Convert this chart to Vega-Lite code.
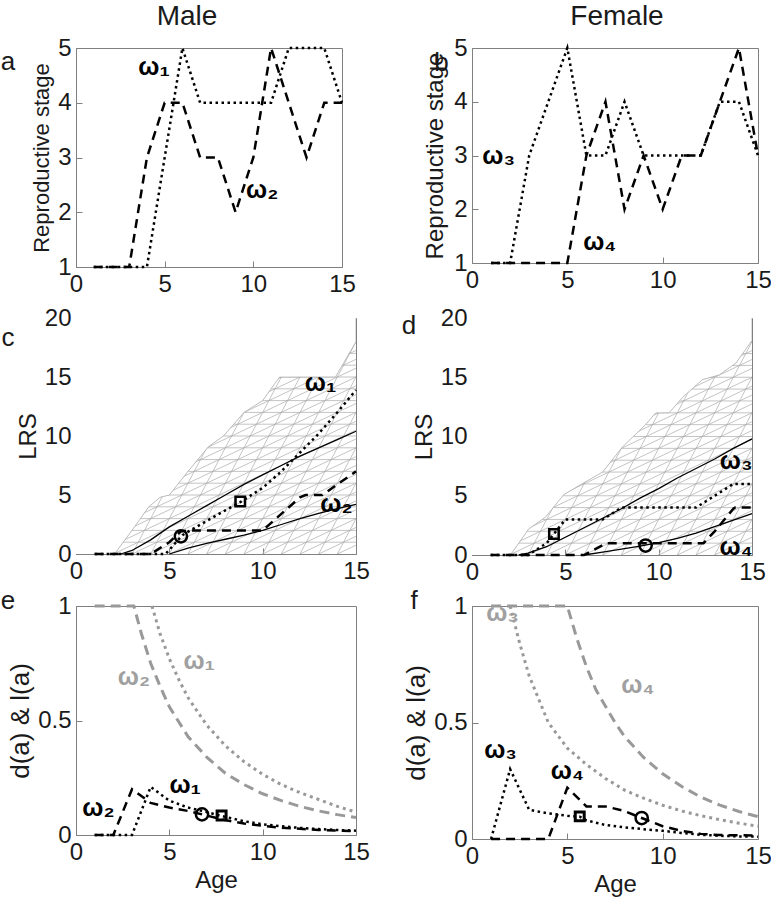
{
"$schema":"https://vega.github.io/schema/vega-lite/v6.json",
"padding":{"left":0,"top":2,"right":2,"bottom":2},
"background":"white",
"columns":2,
"bounds":"flush",
"align":"each",
"spacing":{"row":51,"column":116},
"concat":[
 {"width":266,"height":219,
  "title":{"text":"Male","anchor":"middle","fontSize":28,"offset":5,"dx":-22},
  "encoding":{"x":{"field":"x","type":"quantitative","scale":{"domain":[0,15]},"axis":{"values":[0,5,10,15],"title":null}},
              "y":{"field":"y","type":"quantitative","scale":{"domain":[1,5]},"axis":{"values":[1,2,3,4,5],"title":"Reproductive stage","titleFontSize":22}}},
  "layer":[
   {"data":{"values":[{"x":1,"y":1},{"x":2,"y":1},{"x":3,"y":1},{"x":4,"y":3},{"x":5,"y":4},{"x":6,"y":4},{"x":7,"y":3},{"x":8,"y":3},{"x":9,"y":2},{"x":10,"y":3},{"x":11,"y":5},{"x":12,"y":4},{"x":13,"y":3},{"x":14,"y":4},{"x":15,"y":4}]},
    "mark":{"type":"line","color":"black","strokeWidth":2.5,"strokeDash":[9,6]}},
   {"data":{"values":[{"x":1,"y":1},{"x":2,"y":1},{"x":3,"y":1},{"x":4,"y":1},{"x":5,"y":3},{"x":6,"y":5},{"x":7,"y":4},{"x":8,"y":4},{"x":9,"y":4},{"x":10,"y":4},{"x":11,"y":4},{"x":12,"y":5},{"x":13,"y":5},{"x":14,"y":5},{"x":15,"y":4}]},
    "mark":{"type":"line","color":"black","strokeWidth":2.5,"strokeDash":[2.5,3.5]}},
   {"data":{"values":[{"x":4.4,"y":4.65,"t":"ω₁"},{"x":10.5,"y":2.4,"t":"ω₂"}]},
    "mark":{"type":"text","fontSize":25,"fontWeight":"bold","font":"Liberation Sans","color":"black"},"encoding":{"text":{"field":"t"}}},
   {"data":{"values":[{"x":-3.83,"y":4.74,"t":"a"}]},
    "mark":{"type":"text","fontSize":26,"font":"Liberation Sans","color":"#1a1a1a"},"encoding":{"text":{"field":"t"}}}
  ]},
 {"width":286,"height":215,
  "title":{"text":"Female","anchor":"middle","fontSize":28,"offset":5,"dx":2},
  "encoding":{"x":{"field":"x","type":"quantitative","scale":{"domain":[0,15]},"axis":{"values":[0,5,10,15],"title":null}},
              "y":{"field":"y","type":"quantitative","scale":{"domain":[1,5]},"axis":{"values":[1,2,3,4,5],"title":"Reproductive stage","titleFontSize":24,"titlePadding":6}}},
  "layer":[
   {"data":{"values":[{"x":1,"y":1},{"x":2,"y":1},{"x":3,"y":1},{"x":4,"y":1},{"x":5,"y":1},{"x":6,"y":3},{"x":7,"y":4},{"x":8,"y":2},{"x":9,"y":3},{"x":10,"y":2},{"x":11,"y":3},{"x":12,"y":3},{"x":13,"y":4},{"x":14,"y":5},{"x":15,"y":3}]},
    "mark":{"type":"line","color":"black","strokeWidth":2.5,"strokeDash":[9,6]}},
   {"data":{"values":[{"x":1,"y":1},{"x":2,"y":1},{"x":3,"y":3},{"x":4,"y":4},{"x":5,"y":5},{"x":6,"y":3},{"x":7,"y":3},{"x":8,"y":4},{"x":9,"y":3},{"x":10,"y":3},{"x":11,"y":3},{"x":12,"y":3},{"x":13,"y":4},{"x":14,"y":4},{"x":15,"y":3}]},
    "mark":{"type":"line","color":"black","strokeWidth":2.5,"strokeDash":[2.5,3.5]}},
   {"data":{"values":[{"x":1.4,"y":3.0,"t":"ω₃"},{"x":6.7,"y":1.4,"t":"ω₄"}]},
    "mark":{"type":"text","fontSize":25,"fontWeight":"bold","font":"Liberation Sans","color":"black"},"encoding":{"text":{"field":"t"}}},
   {"data":{"values":[{"x":-1.6,"y":4.72,"t":"b"}]},
    "mark":{"type":"text","fontSize":26,"font":"Liberation Sans","color":"#1a1a1a"},"encoding":{"text":{"field":"t"}}}
  ]},
 {"width":280,"height":236,
  "encoding":{"x":{"field":"x","type":"quantitative","scale":{"domain":[0,15]},"axis":{"values":[0,5,10,15],"title":null}},
              "y":{"field":"y","type":"quantitative","scale":{"domain":[0,20]},"axis":{"values":[0,5,10,15,20],"title":"LRS"}}},
  "layer":[
   {"data":{"values":[
{"g":"h1","x":0,"y":1},{"g":"h1","x":15,"y":1},{"g":"h2","x":0,"y":2},{"g":"h2","x":15,"y":2},{"g":"h3","x":0,"y":3},{"g":"h3","x":15,"y":3},{"g":"h4","x":0,"y":4},{"g":"h4","x":15,"y":4},{"g":"h5","x":0,"y":5},{"g":"h5","x":15,"y":5},{"g":"h6","x":0,"y":6},{"g":"h6","x":15,"y":6},{"g":"h7","x":0,"y":7},{"g":"h7","x":15,"y":7},{"g":"h8","x":0,"y":8},{"g":"h8","x":15,"y":8},{"g":"h9","x":0,"y":9},{"g":"h9","x":15,"y":9},{"g":"h10","x":0,"y":10},{"g":"h10","x":15,"y":10},{"g":"h11","x":0,"y":11},{"g":"h11","x":15,"y":11},{"g":"h12","x":0,"y":12},{"g":"h12","x":15,"y":12},{"g":"h13","x":0,"y":13},{"g":"h13","x":15,"y":13},{"g":"h14","x":0,"y":14},{"g":"h14","x":15,"y":14},{"g":"h15","x":0,"y":15},{"g":"h15","x":15,"y":15},{"g":"h16","x":0,"y":16},{"g":"h16","x":15,"y":16},{"g":"h17","x":0,"y":17},{"g":"h17","x":15,"y":17},{"g":"h18","x":0,"y":18},{"g":"h18","x":15,"y":18},
{"g":"s2","x":2,"y":0},{"g":"s2","x":8.667,"y":20},{"g":"s3","x":3,"y":0},{"g":"s3","x":9.667,"y":20},{"g":"s4","x":4,"y":0},{"g":"s4","x":10.667,"y":20},{"g":"s5","x":5,"y":0},{"g":"s5","x":11.667,"y":20},{"g":"s6","x":6,"y":0},{"g":"s6","x":12.667,"y":20},{"g":"s7","x":7,"y":0},{"g":"s7","x":13.667,"y":20},{"g":"s8","x":8,"y":0},{"g":"s8","x":14.667,"y":20},{"g":"s9","x":9,"y":0},{"g":"s9","x":15.667,"y":20},{"g":"s10","x":10,"y":0},{"g":"s10","x":16.667,"y":20},{"g":"s11","x":11,"y":0},{"g":"s11","x":17.667,"y":20},{"g":"s12","x":12,"y":0},{"g":"s12","x":18.667,"y":20},{"g":"s13","x":13,"y":0},{"g":"s13","x":19.667,"y":20},{"g":"s14","x":14,"y":0},{"g":"s14","x":20.667,"y":20},
{"g":"t-9","x":-9,"y":0},{"g":"t-9","x":17.667,"y":20},{"g":"t-8","x":-8,"y":0},{"g":"t-8","x":18.667,"y":20},{"g":"t-7","x":-7,"y":0},{"g":"t-7","x":19.667,"y":20},{"g":"t-6","x":-6,"y":0},{"g":"t-6","x":20.667,"y":20},{"g":"t-5","x":-5,"y":0},{"g":"t-5","x":21.667,"y":20},{"g":"t-4","x":-4,"y":0},{"g":"t-4","x":22.667,"y":20},{"g":"t-3","x":-3,"y":0},{"g":"t-3","x":23.667,"y":20},{"g":"t-2","x":-2,"y":0},{"g":"t-2","x":24.667,"y":20},{"g":"t-1","x":-1,"y":0},{"g":"t-1","x":25.667,"y":20},{"g":"t0","x":0,"y":0},{"g":"t0","x":26.667,"y":20},{"g":"t1","x":1,"y":0},{"g":"t1","x":27.667,"y":20},{"g":"t2","x":2,"y":0},{"g":"t2","x":28.667,"y":20},{"g":"t3","x":3,"y":0},{"g":"t3","x":29.667,"y":20},{"g":"t4","x":4,"y":0},{"g":"t4","x":30.667,"y":20},{"g":"t5","x":5,"y":0},{"g":"t5","x":31.667,"y":20},{"g":"t6","x":6,"y":0},{"g":"t6","x":32.667,"y":20},{"g":"t7","x":7,"y":0},{"g":"t7","x":33.667,"y":20},{"g":"t8","x":8,"y":0},{"g":"t8","x":34.667,"y":20},{"g":"t9","x":9,"y":0},{"g":"t9","x":35.667,"y":20},{"g":"t10","x":10,"y":0},{"g":"t10","x":36.667,"y":20},{"g":"t11","x":11,"y":0},{"g":"t11","x":37.667,"y":20},{"g":"t12","x":12,"y":0},{"g":"t12","x":38.667,"y":20},{"g":"t13","x":13,"y":0},{"g":"t13","x":39.667,"y":20},{"g":"t14","x":14,"y":0},{"g":"t14","x":40.667,"y":20}
   ]},
    "mark":{"type":"line","color":"#ababab","strokeWidth":0.7,"clip":true},"encoding":{"detail":{"field":"g"}}},
   {"data":{"values":[{"x":2.06,"y":0},{"x":3.0,"y":2},{"x":3.9,"y":4},{"x":4.5,"y":4.8},{"x":5.0,"y":5},{"x":6.0,"y":7},{"x":7.1,"y":9.1},{"x":7.9,"y":10},{"x":9.0,"y":12},{"x":10.0,"y":13},{"x":10.9,"y":14.99},{"x":13.9,"y":15},{"x":15,"y":18},{"x":15,"y":20}]},
    "layer":[
     {"mark":{"type":"area","orient":"horizontal","color":"white","opacity":1,"clip":true}},
     {"mark":{"type":"line","color":"#ababab","strokeWidth":0.8,"clip":true}}
    ]},
   {"data":{"values":[{"x":2.4,"y":0},{"x":3,"y":0.3},{"x":4,"y":1.2},{"x":5,"y":2.3},{"x":6,"y":3.2},{"x":7,"y":4.1},{"x":8,"y":5.0},{"x":9,"y":5.9},{"x":10,"y":6.7},{"x":11,"y":7.5},{"x":12,"y":8.3},{"x":13,"y":9.0},{"x":14,"y":9.7},{"x":15,"y":10.4}]},
    "mark":{"type":"line","color":"black","strokeWidth":1.3}},
   {"data":{"values":[{"x":5,"y":0},{"x":6,"y":0.5},{"x":7,"y":0.9},{"x":8,"y":1.25},{"x":9,"y":1.6},{"x":10,"y":2.0},{"x":11,"y":2.5},{"x":12,"y":3.0},{"x":13,"y":3.45},{"x":14,"y":3.85},{"x":15,"y":4.2}]},
    "mark":{"type":"line","color":"black","strokeWidth":1.3}},
   {"data":{"values":[{"x":1,"y":0},{"x":2,"y":0},{"x":3,"y":0},{"x":4,"y":0},{"x":5,"y":1.0},{"x":5.6,"y":1.9},{"x":6,"y":2},{"x":7,"y":2},{"x":8,"y":2},{"x":9,"y":2},{"x":10,"y":2},{"x":11,"y":3.4},{"x":12,"y":4.8},{"x":12.3,"y":5},{"x":13.2,"y":5},{"x":14,"y":5.9},{"x":15,"y":7}]},
    "mark":{"type":"line","color":"black","strokeWidth":2.5,"strokeDash":[9,6]}},
   {"data":{"values":[{"x":1,"y":0},{"x":2,"y":0},{"x":3,"y":0},{"x":4,"y":0},{"x":4.8,"y":0},{"x":5.7,"y":1.6},{"x":7,"y":2.8},{"x":8,"y":3.7},{"x":8.8,"y":4.4},{"x":10,"y":5.6},{"x":11,"y":7.0},{"x":12,"y":8.6},{"x":13,"y":10.2},{"x":14,"y":12.0},{"x":15,"y":13.9}]},
    "mark":{"type":"line","color":"black","strokeWidth":2.5,"strokeDash":[2.5,3.5]}},
   {"data":{"values":[{"x":5.62,"y":1.5}]},"mark":{"type":"point","shape":"circle","size":150,"color":"black","strokeWidth":2.5,"filled":false,"opacity":1}},
   {"data":{"values":[{"x":8.8,"y":4.45}]},"mark":{"type":"point","shape":"square","size":90,"color":"black","strokeWidth":2.5,"filled":false,"opacity":1}},
   {"data":{"values":[{"x":13.1,"y":14.5,"t":"ω₁"},{"x":13.95,"y":4.25,"t":"ω₂"}]},
    "mark":{"type":"text","fontSize":25,"fontWeight":"bold","font":"Liberation Sans","color":"black"},"encoding":{"text":{"field":"t"}}},
   {"data":{"values":[{"x":-3.64,"y":18.3,"t":"c"}]},
    "mark":{"type":"text","fontSize":26,"font":"Liberation Sans","color":"#1a1a1a"},"encoding":{"text":{"field":"t"}}}
  ]},
 {"width":280,"height":237,
  "encoding":{"x":{"field":"x","type":"quantitative","scale":{"domain":[0,15]},"axis":{"values":[0,5,10,15],"title":null}},
              "y":{"field":"y","type":"quantitative","scale":{"domain":[0,20]},"axis":{"values":[0,5,10,15,20],"title":"LRS"}}},
  "layer":[
   {"data":{"values":[
{"g":"h1","x":0,"y":1},{"g":"h1","x":15,"y":1},{"g":"h2","x":0,"y":2},{"g":"h2","x":15,"y":2},{"g":"h3","x":0,"y":3},{"g":"h3","x":15,"y":3},{"g":"h4","x":0,"y":4},{"g":"h4","x":15,"y":4},{"g":"h5","x":0,"y":5},{"g":"h5","x":15,"y":5},{"g":"h6","x":0,"y":6},{"g":"h6","x":15,"y":6},{"g":"h7","x":0,"y":7},{"g":"h7","x":15,"y":7},{"g":"h8","x":0,"y":8},{"g":"h8","x":15,"y":8},{"g":"h9","x":0,"y":9},{"g":"h9","x":15,"y":9},{"g":"h10","x":0,"y":10},{"g":"h10","x":15,"y":10},{"g":"h11","x":0,"y":11},{"g":"h11","x":15,"y":11},{"g":"h12","x":0,"y":12},{"g":"h12","x":15,"y":12},{"g":"h13","x":0,"y":13},{"g":"h13","x":15,"y":13},{"g":"h14","x":0,"y":14},{"g":"h14","x":15,"y":14},{"g":"h15","x":0,"y":15},{"g":"h15","x":15,"y":15},{"g":"h16","x":0,"y":16},{"g":"h16","x":15,"y":16},{"g":"h17","x":0,"y":17},{"g":"h17","x":15,"y":17},{"g":"h18","x":0,"y":18},{"g":"h18","x":15,"y":18},
{"g":"s2","x":2,"y":0},{"g":"s2","x":8.667,"y":20},{"g":"s3","x":3,"y":0},{"g":"s3","x":9.667,"y":20},{"g":"s4","x":4,"y":0},{"g":"s4","x":10.667,"y":20},{"g":"s5","x":5,"y":0},{"g":"s5","x":11.667,"y":20},{"g":"s6","x":6,"y":0},{"g":"s6","x":12.667,"y":20},{"g":"s7","x":7,"y":0},{"g":"s7","x":13.667,"y":20},{"g":"s8","x":8,"y":0},{"g":"s8","x":14.667,"y":20},{"g":"s9","x":9,"y":0},{"g":"s9","x":15.667,"y":20},{"g":"s10","x":10,"y":0},{"g":"s10","x":16.667,"y":20},{"g":"s11","x":11,"y":0},{"g":"s11","x":17.667,"y":20},{"g":"s12","x":12,"y":0},{"g":"s12","x":18.667,"y":20},{"g":"s13","x":13,"y":0},{"g":"s13","x":19.667,"y":20},{"g":"s14","x":14,"y":0},{"g":"s14","x":20.667,"y":20},
{"g":"t-9","x":-9,"y":0},{"g":"t-9","x":17.667,"y":20},{"g":"t-8","x":-8,"y":0},{"g":"t-8","x":18.667,"y":20},{"g":"t-7","x":-7,"y":0},{"g":"t-7","x":19.667,"y":20},{"g":"t-6","x":-6,"y":0},{"g":"t-6","x":20.667,"y":20},{"g":"t-5","x":-5,"y":0},{"g":"t-5","x":21.667,"y":20},{"g":"t-4","x":-4,"y":0},{"g":"t-4","x":22.667,"y":20},{"g":"t-3","x":-3,"y":0},{"g":"t-3","x":23.667,"y":20},{"g":"t-2","x":-2,"y":0},{"g":"t-2","x":24.667,"y":20},{"g":"t-1","x":-1,"y":0},{"g":"t-1","x":25.667,"y":20},{"g":"t0","x":0,"y":0},{"g":"t0","x":26.667,"y":20},{"g":"t1","x":1,"y":0},{"g":"t1","x":27.667,"y":20},{"g":"t2","x":2,"y":0},{"g":"t2","x":28.667,"y":20},{"g":"t3","x":3,"y":0},{"g":"t3","x":29.667,"y":20},{"g":"t4","x":4,"y":0},{"g":"t4","x":30.667,"y":20},{"g":"t5","x":5,"y":0},{"g":"t5","x":31.667,"y":20},{"g":"t6","x":6,"y":0},{"g":"t6","x":32.667,"y":20},{"g":"t7","x":7,"y":0},{"g":"t7","x":33.667,"y":20},{"g":"t8","x":8,"y":0},{"g":"t8","x":34.667,"y":20},{"g":"t9","x":9,"y":0},{"g":"t9","x":35.667,"y":20},{"g":"t10","x":10,"y":0},{"g":"t10","x":36.667,"y":20},{"g":"t11","x":11,"y":0},{"g":"t11","x":37.667,"y":20},{"g":"t12","x":12,"y":0},{"g":"t12","x":38.667,"y":20},{"g":"t13","x":13,"y":0},{"g":"t13","x":39.667,"y":20},{"g":"t14","x":14,"y":0},{"g":"t14","x":40.667,"y":20}
   ]},
    "mark":{"type":"line","color":"#ababab","strokeWidth":0.7,"clip":true},"encoding":{"detail":{"field":"g"}}},
   {"data":{"values":[{"x":2.06,"y":0},{"x":3.04,"y":2.2},{"x":3.94,"y":3.2},{"x":4.92,"y":5.1},{"x":6.0,"y":6.1},{"x":7.0,"y":7.0},{"x":8.05,"y":9.1},{"x":9.3,"y":11},{"x":9.84,"y":11.99},{"x":10.56,"y":12},{"x":11.28,"y":13.3},{"x":12.35,"y":14.8},{"x":13.25,"y":15.2},{"x":14.14,"y":16.2},{"x":15,"y":18.1},{"x":15,"y":20}]},
    "layer":[
     {"mark":{"type":"area","orient":"horizontal","color":"white","opacity":1,"clip":true}},
     {"mark":{"type":"line","color":"#ababab","strokeWidth":0.8,"clip":true}}
    ]},
   {"data":{"values":[{"x":2.5,"y":0},{"x":3,"y":0.15},{"x":4,"y":0.7},{"x":5,"y":1.5},{"x":6,"y":2.3},{"x":7,"y":3.1},{"x":8,"y":3.9},{"x":9,"y":4.8},{"x":10,"y":5.6},{"x":11,"y":6.5},{"x":12,"y":7.3},{"x":13,"y":8.1},{"x":14,"y":9.0},{"x":15,"y":9.8}]},
    "mark":{"type":"line","color":"black","strokeWidth":1.3}},
   {"data":{"values":[{"x":6,"y":0},{"x":7,"y":0.25},{"x":8,"y":0.5},{"x":9,"y":0.75},{"x":10,"y":1.05},{"x":11,"y":1.4},{"x":12,"y":1.85},{"x":13,"y":2.4},{"x":14,"y":2.95},{"x":15,"y":3.5}]},
    "mark":{"type":"line","color":"black","strokeWidth":1.3}},
   {"data":{"values":[{"x":1,"y":0},{"x":2,"y":0},{"x":3,"y":0},{"x":4,"y":0},{"x":5,"y":0},{"x":6,"y":0},{"x":7.2,"y":1},{"x":8,"y":1},{"x":9,"y":1},{"x":10,"y":1},{"x":11,"y":1},{"x":12,"y":1},{"x":12.4,"y":1},{"x":13,"y":2},{"x":14,"y":3.9},{"x":14.1,"y":4},{"x":15,"y":4}]},
    "mark":{"type":"line","color":"black","strokeWidth":2.5,"strokeDash":[9,6]}},
   {"data":{"values":[{"x":1,"y":0},{"x":2,"y":0},{"x":3,"y":0},{"x":4,"y":1},{"x":4.4,"y":1.8},{"x":5,"y":3},{"x":6,"y":3},{"x":7,"y":3},{"x":8,"y":4},{"x":9,"y":4},{"x":10,"y":4},{"x":11,"y":4},{"x":12,"y":4},{"x":13,"y":5},{"x":14,"y":6},{"x":15,"y":6}]},
    "mark":{"type":"line","color":"black","strokeWidth":2.5,"strokeDash":[2.5,3.5]}},
   {"data":{"values":[{"x":9.3,"y":0.8}]},"mark":{"type":"point","shape":"circle","size":150,"color":"black","strokeWidth":2.5,"filled":false,"opacity":1}},
   {"data":{"values":[{"x":4.39,"y":1.77}]},"mark":{"type":"point","shape":"square","size":90,"color":"black","strokeWidth":2.5,"filled":false,"opacity":1}},
   {"data":{"values":[{"x":14.15,"y":7.9,"t":"ω₃"},{"x":14.15,"y":0.65,"t":"ω₄"}]},
    "mark":{"type":"text","fontSize":25,"fontWeight":"bold","font":"Liberation Sans","color":"black"},"encoding":{"text":{"field":"t"}}},
   {"data":{"values":[{"x":-3.37,"y":19.3,"t":"d"}]},
    "mark":{"type":"text","fontSize":26,"font":"Liberation Sans","color":"#1a1a1a"},"encoding":{"text":{"field":"t"}}}
  ]},
 {"width":280,"height":229,
  "encoding":{"x":{"field":"x","type":"quantitative","scale":{"domain":[0,15]},"axis":{"values":[0,5,10,15],"title":"Age"}},
              "y":{"field":"y","type":"quantitative","scale":{"domain":[0,1]},"axis":{"values":[0,0.5,1],"format":"~g","title":"d(a) & l(a)","titleFontSize":26}}},
  "layer":[
   {"data":{"values":[{"x":1,"y":1},{"x":2,"y":1},{"x":3.1,"y":1},{"x":3.5,"y":0.88},{"x":4,"y":0.75},{"x":4.5,"y":0.65},{"x":5,"y":0.56},{"x":6,"y":0.43},{"x":7,"y":0.34},{"x":8,"y":0.27},{"x":9,"y":0.22},{"x":10,"y":0.18},{"x":11,"y":0.15},{"x":12,"y":0.125},{"x":13,"y":0.105},{"x":14,"y":0.089},{"x":15,"y":0.076}]},
    "mark":{"type":"line","color":"#999999","strokeWidth":3,"strokeDash":[10,6]}},
   {"data":{"values":[{"x":4.07,"y":1},{"x":4.5,"y":0.88},{"x":5,"y":0.77},{"x":5.5,"y":0.68},{"x":6,"y":0.6},{"x":7,"y":0.48},{"x":8,"y":0.39},{"x":9,"y":0.32},{"x":10,"y":0.265},{"x":11,"y":0.22},{"x":12,"y":0.185},{"x":13,"y":0.155},{"x":14,"y":0.125},{"x":15,"y":0.1}]},
    "mark":{"type":"line","color":"#999999","strokeWidth":3,"strokeDash":[3,4]}},
   {"data":{"values":[{"x":1,"y":0},{"x":2,"y":0},{"x":3,"y":0.2},{"x":4,"y":0.14},{"x":5,"y":0.12},{"x":6,"y":0.105},{"x":6.75,"y":0.09},{"x":8,"y":0.065},{"x":9,"y":0.05},{"x":10,"y":0.04},{"x":11,"y":0.032},{"x":12,"y":0.027},{"x":13,"y":0.022},{"x":14,"y":0.019},{"x":15,"y":0.017}]},
    "mark":{"type":"line","color":"black","strokeWidth":2.5,"strokeDash":[9,6]}},
   {"data":{"values":[{"x":1,"y":0},{"x":2,"y":0},{"x":3,"y":0},{"x":4,"y":0.21},{"x":5,"y":0.15},{"x":6,"y":0.12},{"x":7,"y":0.1},{"x":7.8,"y":0.083},{"x":9,"y":0.06},{"x":10,"y":0.047},{"x":11,"y":0.038},{"x":12,"y":0.031},{"x":13,"y":0.026},{"x":14,"y":0.022},{"x":15,"y":0.019}]},
    "mark":{"type":"line","color":"black","strokeWidth":2.5,"strokeDash":[2.5,3.5]}},
   {"data":{"values":[{"x":6.75,"y":0.09}]},"mark":{"type":"point","shape":"circle","size":150,"color":"black","strokeWidth":2.5,"filled":false,"opacity":1}},
   {"data":{"values":[{"x":7.8,"y":0.085}]},"mark":{"type":"point","shape":"square","size":80,"color":"black","strokeWidth":3,"filled":false,"opacity":1}},
   {"data":{"values":[{"x":6.6,"y":0.76,"t":"ω₁"},{"x":3.1,"y":0.69,"t":"ω₂"}]},
    "mark":{"type":"text","fontSize":25,"fontWeight":"bold","font":"Liberation Sans","color":"#a0a0a0"},"encoding":{"text":{"field":"t"}}},
   {"data":{"values":[{"x":5.85,"y":0.22,"t":"ω₁"},{"x":1.2,"y":0.12,"t":"ω₂"}]},
    "mark":{"type":"text","fontSize":25,"fontWeight":"bold","font":"Liberation Sans","color":"black"},"encoding":{"text":{"field":"t"}}},
   {"data":{"values":[{"x":-3.64,"y":1.02,"t":"e"}]},
    "mark":{"type":"text","fontSize":26,"font":"Liberation Sans","color":"#1a1a1a"},"encoding":{"text":{"field":"t"}}}
  ]},
 {"width":286,"height":233,
  "encoding":{"x":{"field":"x","type":"quantitative","scale":{"domain":[0,15]},"axis":{"values":[0,5,10,15],"title":"Age"}},
              "y":{"field":"y","type":"quantitative","scale":{"domain":[0,1]},"axis":{"values":[0,0.5,1],"format":"~g","title":"d(a) & l(a)","titleFontSize":26}}},
  "layer":[
   {"data":{"values":[{"x":1,"y":1},{"x":2,"y":1},{"x":3,"y":1},{"x":4,"y":1},{"x":5,"y":1},{"x":5.5,"y":0.86},{"x":6,"y":0.74},{"x":6.5,"y":0.64},{"x":7,"y":0.57},{"x":7.5,"y":0.5},{"x":8,"y":0.44},{"x":9,"y":0.35},{"x":10,"y":0.28},{"x":11,"y":0.225},{"x":12,"y":0.18},{"x":13,"y":0.145},{"x":14,"y":0.118},{"x":15,"y":0.096}]},
    "mark":{"type":"line","color":"#999999","strokeWidth":3,"strokeDash":[10,6]}},
   {"data":{"values":[{"x":2,"y":1},{"x":2.5,"y":0.84},{"x":3,"y":0.70},{"x":3.5,"y":0.6},{"x":4,"y":0.5},{"x":5,"y":0.39},{"x":6,"y":0.32},{"x":7,"y":0.26},{"x":8,"y":0.21},{"x":9,"y":0.175},{"x":10,"y":0.145},{"x":11,"y":0.12},{"x":12,"y":0.1},{"x":13,"y":0.083},{"x":14,"y":0.068},{"x":15,"y":0.055}]},
    "mark":{"type":"line","color":"#999999","strokeWidth":3,"strokeDash":[3,4]}},
   {"data":{"values":[{"x":1,"y":0},{"x":2,"y":0},{"x":3,"y":0},{"x":4,"y":0},{"x":5,"y":0.22},{"x":6,"y":0.14},{"x":7,"y":0.14},{"x":8,"y":0.12},{"x":8.9,"y":0.09},{"x":10,"y":0.055},{"x":11,"y":0.035},{"x":12,"y":0.022},{"x":13,"y":0.017},{"x":14,"y":0.016},{"x":15,"y":0.015}]},
    "mark":{"type":"line","color":"black","strokeWidth":2.5,"strokeDash":[9,6]}},
   {"data":{"values":[{"x":1,"y":0},{"x":2,"y":0.3},{"x":3,"y":0.125},{"x":4,"y":0.11},{"x":5,"y":0.1},{"x":5.65,"y":0.096},{"x":6,"y":0.08},{"x":7,"y":0.06},{"x":8,"y":0.05},{"x":9,"y":0.042},{"x":10,"y":0.035},{"x":11,"y":0.026},{"x":12,"y":0.018},{"x":13,"y":0.014},{"x":14,"y":0.011},{"x":15,"y":0.01}]},
    "mark":{"type":"line","color":"black","strokeWidth":2.5,"strokeDash":[2.5,3.5]}},
   {"data":{"values":[{"x":8.9,"y":0.09}]},"mark":{"type":"point","shape":"circle","size":150,"color":"black","strokeWidth":2.5,"filled":false,"opacity":1}},
   {"data":{"values":[{"x":5.65,"y":0.097}]},"mark":{"type":"point","shape":"square","size":80,"color":"black","strokeWidth":3,"filled":false,"opacity":1}},
   {"data":{"values":[{"x":1.6,"y":0.97,"t":"ω₃"},{"x":8.7,"y":0.66,"t":"ω₄"}]},
    "mark":{"type":"text","fontSize":25,"fontWeight":"bold","font":"Liberation Sans","color":"#a0a0a0"},"encoding":{"text":{"field":"t"}}},
   {"data":{"values":[{"x":1.5,"y":0.38,"t":"ω₃"},{"x":5.0,"y":0.29,"t":"ω₄"}]},
    "mark":{"type":"text","fontSize":25,"fontWeight":"bold","font":"Liberation Sans","color":"black"},"encoding":{"text":{"field":"t"}}},
   {"data":{"values":[{"x":-3.04,"y":1.02,"t":"f"}]},
    "mark":{"type":"text","fontSize":26,"font":"Liberation Sans","color":"#1a1a1a"},"encoding":{"text":{"field":"t"}}}
  ]}
],
"config":{
 "view":{"stroke":"#808080","strokeWidth":1},
 "axis":{"labelFont":"Liberation Sans","titleFont":"Liberation Sans","labelFontSize":24,"titleFontSize":24,"titleFontWeight":"normal","labelColor":"#1a1a1a","titleColor":"#1a1a1a","grid":false,"domainColor":"#808080","tickColor":"#808080","tickSize":-6,"labelPadding":11,"labelFlush":false,"labelOverlap":false,"zindex":1,"titlePadding":4},
 "title":{"anchor":"start","frame":"group","font":"Liberation Sans","fontSize":26,"fontWeight":"normal","color":"#1a1a1a","offset":4}
}
}
